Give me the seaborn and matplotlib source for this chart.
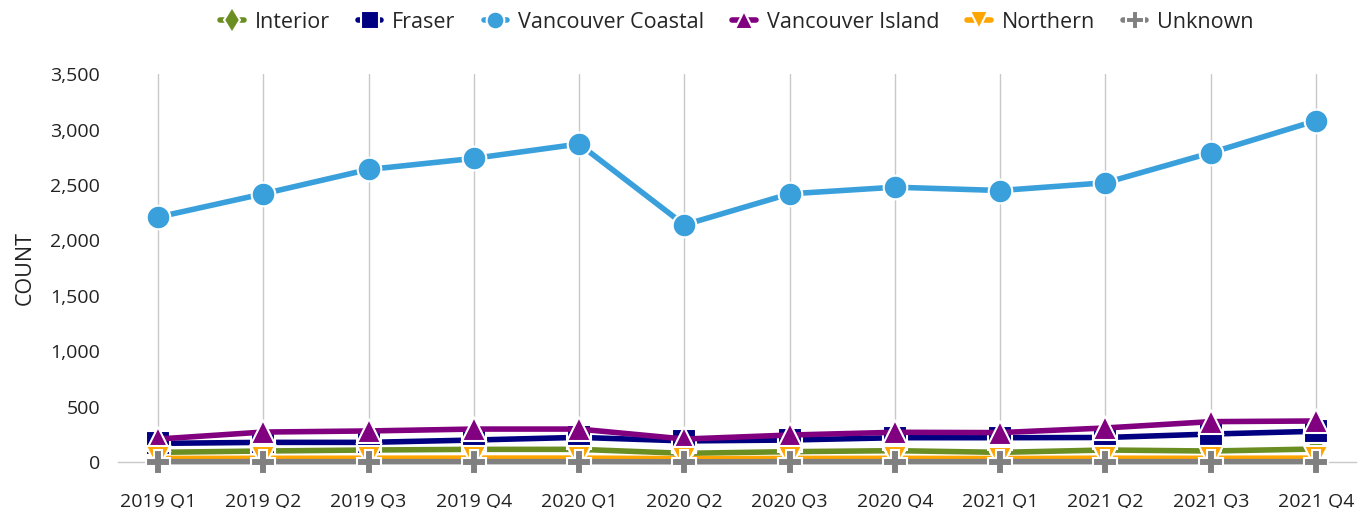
import numpy as np
import pandas as pd
import matplotlib
matplotlib.use("Agg")
import matplotlib.pyplot as plt
import seaborn as sns

# Quarter labels
quarters = ["2019 Q1", "2019 Q2", "2019 Q3", "2019 Q4",
            "2020 Q1", "2020 Q2", "2020 Q3", "2020 Q4",
            "2021 Q1", "2021 Q2", "2021 Q3", "2021 Q4"]

# Counts per health authority
interior = [87, 99, 108, 114, 114, 78, 93, 102, 87, 108, 99, 117]
fraser = [168, 177, 177, 198, 222, 190, 198, 219, 219, 221, 252, 277]
vancouver_coastal = [2210, 2420, 2640, 2740, 2870, 2140, 2420, 2480, 2450, 2520, 2790, 3080]
vancouver_island = [207, 270, 280, 297, 297, 207, 243, 268, 265, 307, 364, 370]
northern = [32, 33, 34, 35, 35, 30, 32, 33, 31, 34, 33, 35]
unknown = [3, 3, 3, 3, 3, 2, 3, 3, 3, 3, 3, 3]

series = {
    "Interior": interior,
    "Fraser": fraser,
    "Vancouver Coastal": vancouver_coastal,
    "Vancouver Island": vancouver_island,
    "Northern": northern,
    "Unknown": unknown,
}
colors = {
    "Interior": "#6B8E23",
    "Fraser": "#000080",
    "Vancouver Coastal": "#3AA0DC",
    "Vancouver Island": "#800080",
    "Northern": "#FFA500",
    "Unknown": "#808080",
}
markers = {
    "Interior": "d",
    "Fraser": "s",
    "Vancouver Coastal": "o",
    "Vancouver Island": "^",
    "Northern": "v",
    "Unknown": "P",
}

sns.set_style("white")
plt.rcParams["font.family"] = ["Open Sans", "DejaVu Sans"]

fig = plt.figure(figsize=(13.62, 5.08), dpi=100)
ax = fig.add_axes([0.0866, 0.0906, 0.909, 0.7634])

x = np.arange(len(quarters))
for i, (name, vals) in enumerate(series.items()):
    df = pd.DataFrame({"x": x, "count": vals})
    sns.lineplot(data=df, x="x", y="count", ax=ax, color=colors[name],
                 linewidth=4, marker=markers[name], markersize=17,
                 markeredgecolor="white", markeredgewidth=1.5,
                 label=name, clip_on=False, zorder=3 + i)

ax.set_xlim(-0.38, len(quarters) - 1 + 0.38)
ax.set_ylim(0, 3500)
ax.set_xticks(x)
ax.set_xticklabels(quarters)
ax.set_yticks(np.arange(0, 3501, 500))
ax.set_yticklabels([f"{v:,}" for v in range(0, 3501, 500)])
ax.tick_params(axis="both", labelsize=14, colors="#222222", length=0)
ax.tick_params(axis="x", pad=22)
ax.tick_params(axis="y", pad=13)
ax.set_xlabel("")
ax.set_ylabel("COUNT", fontsize=15.5, color="#222222", labelpad=10)

ax.grid(axis="x", color="#c8c8c8", linewidth=1)
ax.grid(axis="y", visible=False)
for s in ["top", "right", "left"]:
    ax.spines[s].set_visible(False)
ax.spines["bottom"].set_color("#c8c8c8")
ax.spines["bottom"].set_linewidth(1)

ax.legend(loc="center", bbox_to_anchor=(0.5, 1.134), ncol=6, frameon=False,
          fontsize=15.5, handlelength=1.1, handletextpad=0.5, columnspacing=1.3,
          markerscale=0.75)

fig.savefig("out.png", dpi=100)
